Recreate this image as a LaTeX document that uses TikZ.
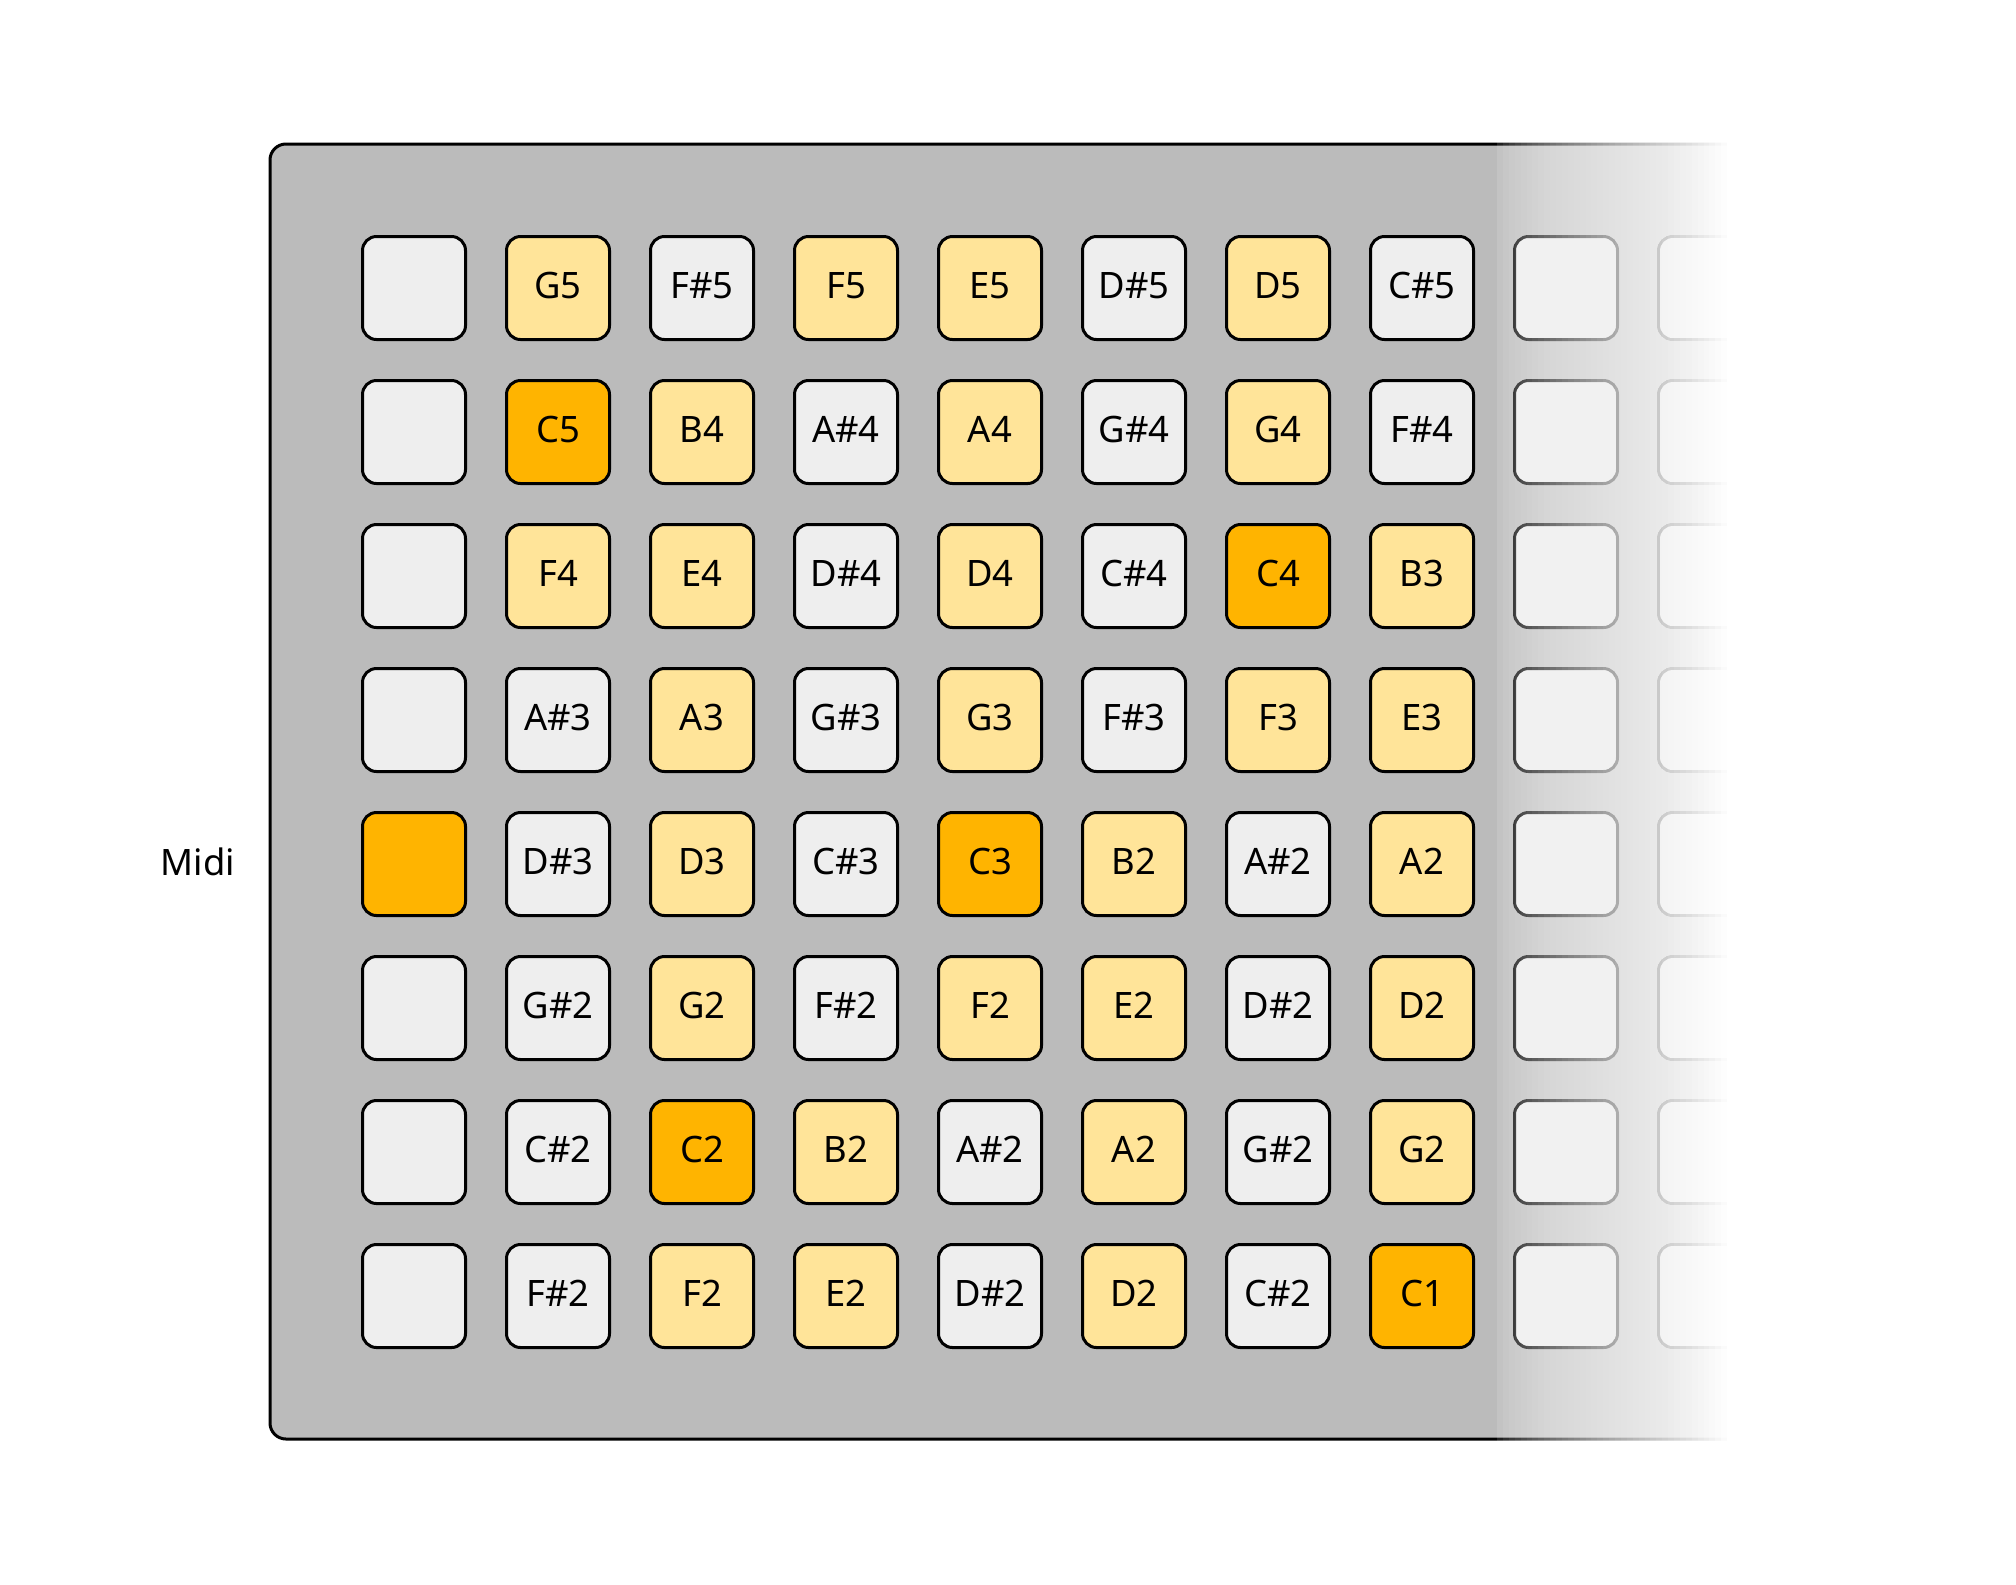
\documentclass[tikz,border=0pt]{standalone}
\usepackage{fontspec}
\setmainfont{Noto Sans}
\usetikzlibrary{matrix}
\definecolor{panelgray}{HTML}{BBBBBB}
\definecolor{padgray}{HTML}{EEEEEE}
\definecolor{padyellow}{HTML}{FFE499}
\definecolor{padorange}{HTML}{FFB400}
\tikzset{
  label font/.style={font=\fontsize{18.2pt}{22pt}\selectfont},
  panel/.style={draw=black, line width=1.5pt, rounded corners=8pt, fill=panelgray},
  pad/.style={label font, draw=black, line width=1.5pt, rounded corners=7pt, fill=padgray, minimum size=51.5pt, inner sep=0pt, anchor=center, text height=13pt, text depth=3pt},
  pad nat/.style={fill=padyellow},
  pad root/.style={fill=padorange}
}

\begin{document}
\begin{tikzpicture}[x=0.5pt, y=-0.5pt,
    pad grid/.style={matrix of nodes, nodes in empty cells, nodes={pad}, column sep=19pt, row sep=19pt}
  ]
  \useasboundingbox (0,0) rectangle (2016,1584);

  \draw[panel] (270,144) rectangle (1780,1439);

  \matrix (pads) [pad grid] at (1062,792) {
    & |[pad nat]| G5 & F\#5 & |[pad nat]| F5 & |[pad nat]| E5 & D\#5 & |[pad nat]| D5 & C\#5 & & \\
    & |[pad root]| C5 & |[pad nat]| B4 & A\#4 & |[pad nat]| A4 & G\#4 & |[pad nat]| G4 & F\#4 & & \\
    & |[pad nat]| F4 & |[pad nat]| E4 & D\#4 & |[pad nat]| D4 & C\#4 & |[pad root]| C4 & |[pad nat]| B3 & & \\
    & A\#3 & |[pad nat]| A3 & G\#3 & |[pad nat]| G3 & F\#3 & |[pad nat]| F3 & |[pad nat]| E3 & & \\
    |[pad root]| & D\#3 & |[pad nat]| D3 & C\#3 & |[pad root]| C3 & |[pad nat]| B2 & A\#2 & |[pad nat]| A2 & & \\
    & G\#2 & |[pad nat]| G2 & F\#2 & |[pad nat]| F2 & |[pad nat]| E2 & D\#2 & |[pad nat]| D2 & & \\
    & C\#2 & |[pad root]| C2 & |[pad nat]| B2 & A\#2 & |[pad nat]| A2 & G\#2 & |[pad nat]| G2 & & \\
    & F\#2 & |[pad nat]| F2 & |[pad nat]| E2 & D\#2 & |[pad nat]| D2 & C\#2 & |[pad root]| C1 & & \\
  };

  \node[label font] (midi) at (198,862) {Midi};

  % right side fades out to white, one layer per step
  \foreach \i [evaluate=\i as \op using {1-(1-(\i/40)^0.55)/(1-((\i-1)/40+0.00001)^0.55)}] in {1,...,40}
    \fill[white, fill opacity=\op] ({1497+(\i-1)*5.9},120) rectangle (1800,1470);

\end{tikzpicture}
\end{document}
